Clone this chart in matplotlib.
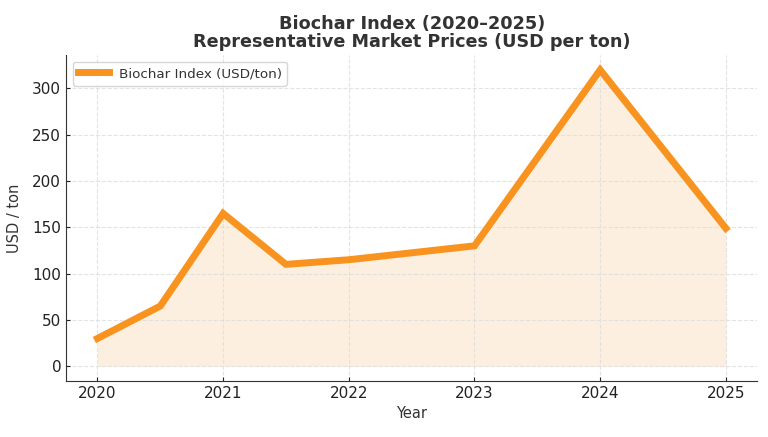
import matplotlib
matplotlib.use("Agg")
import matplotlib.pyplot as plt

plt.rcParams["font.family"] = ["DejaVu Sans"]

years = [2020, 2020.5, 2021, 2021.5, 2022, 2023, 2024, 2025]
prices = [30, 65, 165, 110, 115, 130, 320, 149]
xticks = [2020, 2021, 2022, 2023, 2024, 2025]
yticks = [0, 50, 100, 150, 200, 250, 300]

color = "#F7931E"
fig, ax = plt.subplots(figsize=(7.68, 4.37), dpi=100)
ax.plot(years, prices, color=color, lw=5, label="Biochar Index (USD/ton)", solid_joinstyle="miter")
ax.fill_between(years, prices, 0, color="#F2A84F", alpha=0.18, lw=0)
ax.set_xticks(xticks)
ax.set_yticks(yticks)
ax.tick_params(labelsize=11, colors="#222222", direction="in", length=3, pad=3.5)
ax.grid(True, ls="--", color="#dddddd", lw=0.8, alpha=0.8)
for s in ["top", "right"]:
    ax.spines[s].set_visible(False)
ax.spines["left"].set_color("#333333")
ax.spines["bottom"].set_color("#333333")
ax.set_xlabel("Year", fontsize=10.5, color="#333333", labelpad=4)
ax.set_ylabel("USD / ton", fontsize=10.5, color="#333333", labelpad=7)
ax.set_title("Biochar Index (2020–2025)\nRepresentative Market Prices (USD per ton)",
             fontsize=12.7, fontweight="bold", color="#333333", linespacing=1.0)
ax.legend(loc="upper left", fontsize=9.7, labelcolor="#333333", handlelength=2.3,
          handletextpad=0.7)
fig.subplots_adjust(left=0.086, right=0.986, top=0.874, bottom=0.128)
fig.savefig("out.png")
